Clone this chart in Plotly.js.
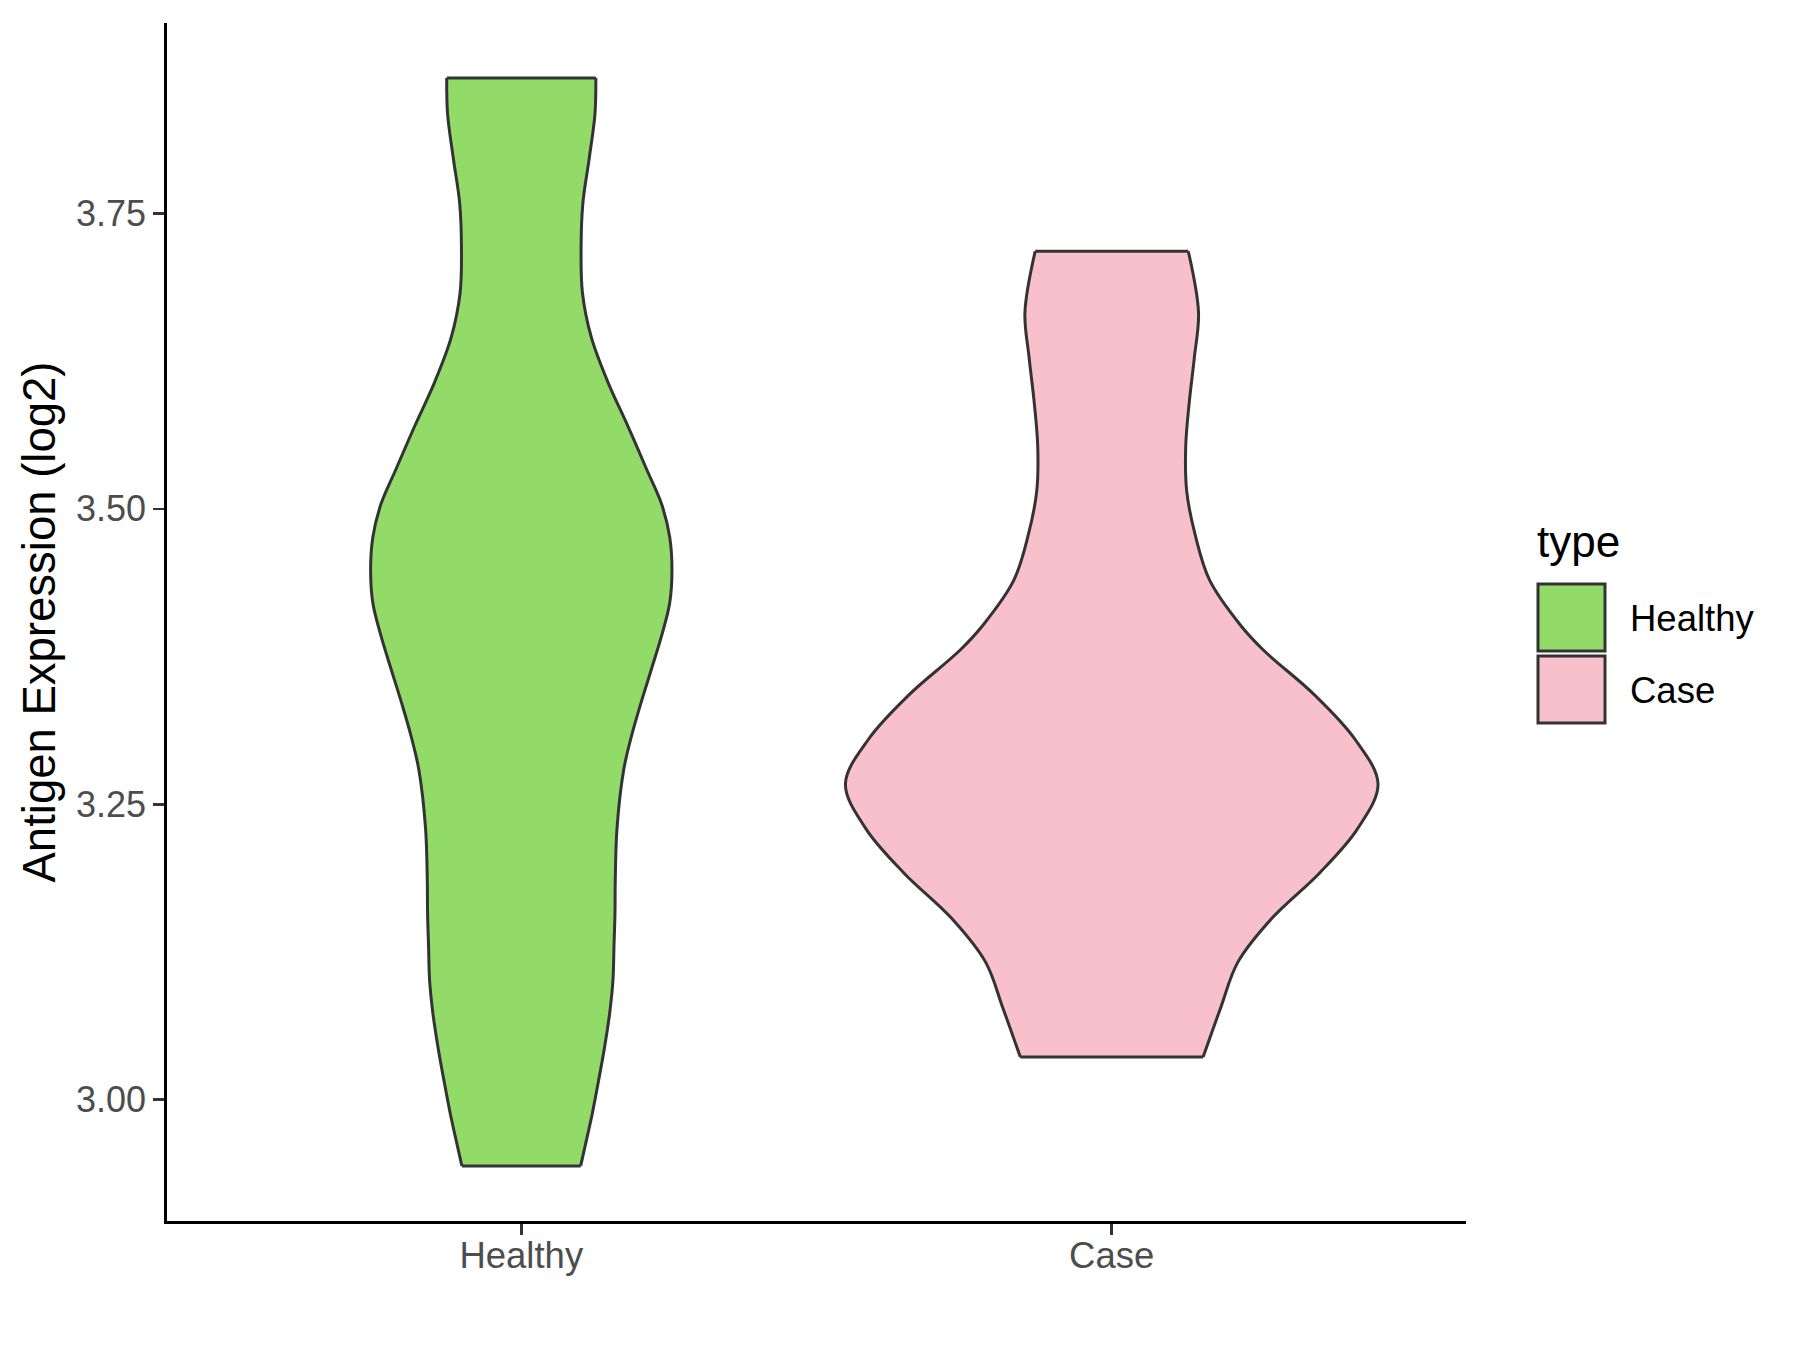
<!DOCTYPE html>
<html>
<head>
<meta charset="utf-8">
<script src="https://cdn.plot.ly/plotly-3.0.1.min.js"></script>
<style>
  html, body { margin: 0; padding: 0; background: #ffffff; }
  #chart { width: 1800px; height: 1350px; }
</style>
</head>
<body>
<div id="chart"></div>
<script>
// ---- Data ----
const categories = ["Healthy", "Case"];
const categoryPositions = [1, 2];
const fillColors = ["#93DB69", "#F7C0CB"];

// Violin outline profiles: expression value (log2) and half-width (x-axis units)
const healthyValues = [2.9441, 2.9604, 2.9887, 3.0168, 3.045, 3.0733, 3.1014, 3.1296, 3.1579, 3.1861,
  3.2295, 3.2791, 3.3073, 3.3355, 3.3637, 3.3919, 3.4201, 3.4483, 3.4765, 3.5047,
  3.5329, 3.5695, 3.6073, 3.6451, 3.6829, 3.7207, 3.7585, 3.7963, 3.8341, 3.8645];
const healthyHalfWidth = [0.1006, 0.1079, 0.1204, 0.1311, 0.1412, 0.1497, 0.1553, 0.157, 0.1587, 0.1592,
  0.1621, 0.1734, 0.1864, 0.2025, 0.2200, 0.2372, 0.2513, 0.2552, 0.2513, 0.2372,
  0.2128, 0.181, 0.1467, 0.1187, 0.1036, 0.1013, 0.1043, 0.115, 0.1248, 0.1263];

const caseValues = [3.0362, 3.0786, 3.1163, 3.154, 3.1918, 3.2295, 3.2673, 3.3051, 3.3429, 3.3806,
  3.4018, 3.4395, 3.4773, 3.515, 3.5529, 3.5906, 3.6284, 3.6662, 3.7179];
const caseHalfWidth = [0.1548, 0.185, 0.2134, 0.272, 0.3517, 0.4165, 0.451, 0.412, 0.3429, 0.2567,
  0.2178, 0.166, 0.1417, 0.127, 0.1253, 0.1314, 0.140, 0.147, 0.1297];

const yTickValues = [3.00, 3.25, 3.50, 3.75];
const yTickLabels = ["3.00", "3.25", "3.50", "3.75"];
const yAxisTitle = "Antigen Expression (log2)";
const legendTitle = "type";

// ---- Build violins: left edge, right edge filled to it, flat caps ----
const OUTLINE = { color: "#333333", width: 3 };
function violinTraces(name, center, values, half, color) {
  const left = values.map((v, i) => center - half[i]);
  const right = values.map((v, i) => center + half[i]);
  const n = values.length - 1;
  return [
    { type: "scatter", mode: "lines", name: name, x: left, y: values,
      line: Object.assign({ shape: "spline", smoothing: 1 }, OUTLINE), hoverinfo: "name", showlegend: false },
    { type: "scatter", mode: "lines", name: name, x: right, y: values, fill: "tonextx", fillcolor: color,
      line: Object.assign({ shape: "spline", smoothing: 1 }, OUTLINE), hoverinfo: "name", showlegend: false },
    { type: "scatter", mode: "lines", name: name,
      x: [left[0], right[0], null, left[n], right[n]],
      y: [values[0], values[0], null, values[n], values[n]],
      line: Object.assign({ shape: "linear" }, OUTLINE), hoverinfo: "skip", showlegend: false }
  ];
}

const traces = [].concat(
  violinTraces(categories[0], categoryPositions[0], healthyValues, healthyHalfWidth, fillColors[0]),
  violinTraces(categories[1], categoryPositions[1], caseValues, caseHalfWidth, fillColors[1])
);

// ---- Layout ----
const W = 1800, H = 1350;
const M = { l: 167, r: 334, t: 23, b: 129 };
const pw = W - M.l - M.r, ph = H - M.t - M.b;
const px = X => (X - M.l) / pw;
const py = Y => (H - M.b - Y) / ph;
const FONT = "Liberation Sans, Arial, Helvetica, sans-serif";

const shapes = [];
const annotations = [];
annotations.push({ xref: "paper", yref: "paper", x: px(1535), y: py(541), xanchor: "left", yanchor: "middle",
  text: legendTitle, showarrow: false, font: { family: FONT, size: 44, color: "#000000" } });
const keyTops = [584, 656];
for (let i = 0; i < categories.length; i++) {
  shapes.push({ type: "rect", xref: "paper", yref: "paper",
    x0: px(1538), x1: px(1605), y0: py(keyTops[i]), y1: py(keyTops[i] + 67),
    fillcolor: fillColors[i], line: { color: "#333333", width: 3 } });
  annotations.push({ xref: "paper", yref: "paper", x: px(1628), y: py(keyTops[i] + 34), xanchor: "left", yanchor: "middle",
    text: categories[i], showarrow: false, font: { family: FONT, size: 36.5, color: "#000000" } });
}

const layout = {
  width: W, height: H,
  margin: M,
  paper_bgcolor: "#ffffff", plot_bgcolor: "#ffffff",
  font: { family: FONT },
  showlegend: false,
  xaxis: {
    range: [0.4, 2.6], tickmode: "array", tickvals: categoryPositions, ticktext: categories,
    showgrid: false, zeroline: false, showline: true, linecolor: "#000000", linewidth: 2.7,
    ticks: "outside", ticklen: 11, tickwidth: 2.7, tickcolor: "#333333", ticklabelstandoff: -11,
    tickfont: { family: FONT, size: 36.5, color: "#4D4D4D" }, fixedrange: true
  },
  yaxis: {
    range: [2.8975, 3.9111], tickmode: "array", tickvals: yTickValues, ticktext: yTickLabels,
    showgrid: false, zeroline: false, showline: true, linecolor: "#000000", linewidth: 2.7,
    ticks: "outside", ticklen: 11, tickwidth: 2.7, tickcolor: "#333333",
    tickfont: { family: FONT, size: 36, color: "#4D4D4D" },
    title: { text: yAxisTitle, font: { family: FONT, size: 45.5, color: "#000000" }, standoff: 6 },
    automargin: false, fixedrange: true
  },
  shapes: shapes,
  annotations: annotations
};

Plotly.newPlot("chart", traces, layout, { displayModeBar: false, staticPlot: true });
</script>
</body>
</html>
